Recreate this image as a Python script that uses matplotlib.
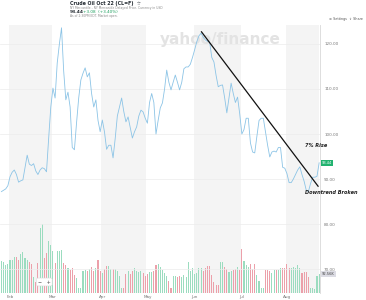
"""Crude Oil Oct 22 (CL=F) - yahoo finance style chart"""
import numpy as np
import pandas as pd
import matplotlib
matplotlib.use("Agg")
import matplotlib.pyplot as plt

# trading days shown on the chart
dates = pd.bdate_range("2022-01-26", "2022-08-22")

# closing price (USD)
close = [87.2, 87.5, 87.8, 88.5, 90.5, 91.5, 92.0, 91.0, 89.3, 89.6,
         89.8, 92.5, 95.3, 93.3, 93.0, 93.4, 91.8, 91.0, 92.0, 92.5,
         92.3, 91.6, 99.0, 106.0, 110.2, 108.0, 115.8, 120.0, 123.6, 114.0,
         107.6, 109.3, 106.0, 97.0, 96.5, 102.5, 108.0, 112.0, 113.5, 114.7,
         112.7, 113.6, 109.0, 106.0, 107.6, 103.0, 100.5, 103.1, 100.5, 96.6,
         97.5, 97.5, 94.7, 99.0, 104.0, 106.0, 108.0, 105.0, 102.7, 103.8,
         101.5, 99.1, 100.5, 101.6, 104.0, 105.3, 104.9, 103.5, 102.4, 107.0,
         109.0, 107.0, 100.0, 103.0, 105.8, 106.9, 110.0, 114.2, 111.5, 109.8,
         111.5, 113.1, 111.5, 109.8, 111.5, 114.5, 114.9, 114.9, 115.5, 117.0,
         118.7, 120.5, 121.8, 122.4, 121.5, 120.9, 120.6, 120.4, 117.0, 116.0,
         113.0, 110.5, 110.8, 110.9, 108.0, 104.7, 108.0, 111.3, 109.0, 107.0,
         108.2, 104.5, 100.0, 101.0, 103.5, 103.5, 98.0, 96.0, 95.8, 99.5,
         103.0, 103.5, 103.5, 100.5, 97.5, 94.9, 96.0, 96.2, 96.0, 97.0,
         97.0, 92.6, 92.4, 91.2, 89.2, 89.2, 90.0, 91.0, 92.0, 92.7,
         91.0, 89.5, 87.5, 87.2, 89.0, 90.4, 90.4, 90.6, 93.6]

# volume (arbitrary units, relative bar height)
volume = [32, 31, 28, 29, 33, 33, 36, 36, 33, 39,
          41, 35, 33, 31, 29, 16, 11, 30, 65, 69,
          35, 40, 52, 48, 42, 30, 42, 42, 43, 30,
          28, 25, 23, 25, 18, 15, 5, 5, 22, 23,
          22, 24, 26, 22, 25, 33, 22, 20, 24, 27,
          27, 24, 24, 24, 22, 17, 5, 5, 19, 22,
          19, 22, 25, 22, 21, 22, 20, 17, 19, 21,
          21, 22, 28, 29, 26, 23, 20, 17, 12, 5,
          17, 17, 16, 17, 16, 18, 16, 31, 22, 25,
          19, 20, 25, 25, 22, 25, 27, 27, 18, 11,
          8, 8, 31, 31, 26, 24, 21, 22, 23, 24,
          26, 23, 44, 32, 28, 26, 29, 24, 29, 18,
          12, 5, 5, 23, 23, 22, 20, 23, 23, 23,
          25, 25, 25, 29, 25, 25, 26, 25, 28, 25,
          20, 21, 21, 16, 5, 5, 4, 17, 19]

price_ticks = [70, 80, 90, 100, 110, 120]
trend_x = [93.2, 147.5]
trend_y = [122.7, 88.4]

idx = np.arange(len(dates))
month = dates.month
month_start = [i for i in idx[1:] if month[i] != month[i - 1]]
month_names = [dates[i].strftime("%b") for i in month_start]

fig = plt.figure(figsize=(3.66, 3.0), dpi=100)
fig.patch.set_facecolor("white")
rect = [0, 7 / 300, 320 / 366, 268 / 300]

# ---- bottom layer: month shading + volume bars ----
axv = fig.add_axes(rect)
axv.set_xlim(-0.66, 148.4)
axv.set_ylim(0, 268)
axv.axis("off")
edges = month_start + [148.4]
for k in range(0, len(month_start), 2):
    axv.axvspan(edges[k] - 0.5, edges[k + 1] - 0.5, color="#f4f4f4", lw=0, zorder=0)
diff = np.diff(np.array(close), prepend=close[0])
colors = ["#9bdcbf" if d >= 0 else "#eca0aa" for d in diff]
axv.bar(idx, volume, width=0.5, color=colors, zorder=2)
axv.text(20, 11, "\u2212   +", fontsize=3.5, color="#555555", ha="center", va="center",
         bbox=dict(boxstyle="round,pad=0.3", fc="white", ec="#dddddd", lw=0.4), zorder=3)

# ---- top layer: price line ----
ax = fig.add_axes(rect)
ax.patch.set_visible(False)
ax.set_xlim(-0.66, 148.4)
ax.set_ylim(64.67, 124.22)

ax.text(102, 121.0, "yahoo/finance", fontsize=11, fontweight="bold",
        color="#e3e3e3", ha="center", va="center", zorder=1)

ax.set_yticks(price_ticks)
ax.set_yticklabels([f"{v:.2f}" for v in price_ticks])
ax.yaxis.tick_right()
ax.tick_params(axis="y", length=0, pad=3, labelsize=3, labelcolor="#777777")
ax.set_xticks(month_start)
ax.set_xticklabels(month_names)
ax.tick_params(axis="x", length=0, pad=1.5, labelsize=3, labelcolor="#777777")
ax.grid(axis="y", color="#ececec", lw=0.5)
ax.set_axisbelow(True)
for s in ["top", "left", "bottom"]:
    ax.spines[s].set_visible(False)
ax.spines["right"].set_color("#d8d8d8")
ax.spines["right"].set_linewidth(0.6)

ax.plot(idx, close, color="#8cc4e6", lw=0.6, zorder=4)
ax.plot(trend_x, trend_y, color="#111111", lw=0.9, zorder=5)

# annotations
ax.text(141.5, 97.1, "7% Rise", fontsize=3.6, fontweight="bold", style="italic",
        color="#222222", clip_on=False, zorder=6)
ax.text(141.5, 86.6, "Downtrend Broken", fontsize=3.6, fontweight="bold", style="italic",
        color="#222222", clip_on=False, zorder=6)

# current price tag and volume tag
fig.text(322 / 366, 1 - 163 / 300, "93.44", fontsize=2.6, color="white", va="center",
         bbox=dict(boxstyle="square,pad=0.25", fc="#22b26f", ec="none"))
fig.text(322 / 366, 1 - 274 / 300, "92.56K", fontsize=2.6, color="#444444", va="center",
         bbox=dict(boxstyle="square,pad=0.25", fc="#dcdce4", ec="none"))

# header
fig.text(70 / 366, 1 - 4 / 300, "Crude Oil Oct 22 (CL=F)  \u2606", fontsize=3.4,
         fontweight="bold", color="#232a31", va="center")
fig.text(70 / 366, 1 - 8 / 300, "NY Mercantile - NY Mercantile Delayed Price. Currency in USD",
         fontsize=2.2, color="#888888", va="center")
fig.text(70 / 366, 1 - 12 / 300, "93.44", fontsize=3.2, fontweight="bold",
         color="#232a31", va="center")
fig.text(83 / 366, 1 - 12 / 300, "+3.08  (+3.40%)", fontsize=3.0,
         color="#1a9e5c", va="center")
fig.text(70 / 366, 1 - 16 / 300, "As of 2:30PM EDT. Market open.", fontsize=2.2,
         color="#888888", va="center")
fig.text(329 / 366, 1 - 19 / 300, "\u2699 Settings  \u21e7 Share", fontsize=2.4,
         color="#555555", va="center")

fig.savefig("out.png", dpi=100)
